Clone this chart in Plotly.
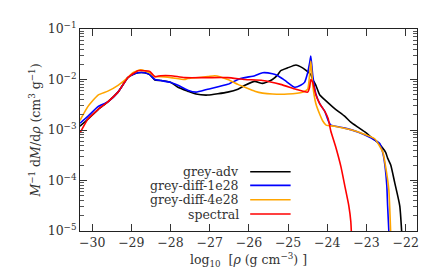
import plotly.graph_objects as go

# ---- data (x = log10 rho, y = M^-1 dM/drho) ----
adv_x = [-30.31, -30.11, -29.85, -29.60, -29.34, -29.09, -28.96, -28.83, -28.66, -28.53, -28.40, -28.25,
         -27.99, -27.81, -27.56, -27.35, -27.05, -26.54, -26.28, -26.10, -25.85, -25.65, -25.40, -25.26,
         -25.19, -25.01, -24.80, -24.63, -24.50, -24.42, -24.37, -24.29, -24.19, -24.06, -23.81, -23.55,
         -23.40, -23.22, -23.04, -22.89, -22.71, -22.51, -22.46, -22.38, -22.28, -22.15, -22.08]
adv_y = [1.19e-3, 1.63e-3, 2.54e-3, 3.61e-3, 5.62e-3, 1.09e-2, 1.25e-2, 1.36e-2, 1.36e-2, 1.25e-2, 9.8e-3, 9.57e-3,
         8.76e-3, 7.02e-3, 5.88e-3, 5.15e-3, 4.92e-3, 5.62e-3, 6.42e-3, 7.67e-3, 9.16e-3, 8.38e-3, 1.0e-2, 1.25e-2,
         1.49e-2, 1.70e-2, 1.94e-2, 1.70e-2, 1.43e-2, 1.25e-2, 1.0e-2, 7.67e-3, 4.92e-3, 3.94e-3, 2.65e-3, 1.86e-3,
         1.43e-3, 1.14e-3, 9.16e-4, 7.34e-4, 5.62e-4, 3.61e-4, 2.77e-4, 2.03e-4, 9.16e-5, 3.16e-5, 5e-6]

d1_x = [-30.31, -30.11, -29.85, -29.60, -29.34, -29.09, -28.96, -28.83, -28.66, -28.53, -28.40, -28.25,
        -27.99, -27.81, -27.56, -27.35, -27.05, -26.54, -26.28, -26.10, -25.85, -25.65, -25.40, -25.26,
        -25.08, -24.83, -24.68, -24.58, -24.50, -24.45, -24.42, -24.37, -24.29, -24.19, -24.06, -23.98,
        -23.91, -23.55, -23.22, -22.89, -22.66, -22.58, -22.53, -22.48, -22.46, -22.41]
d1_y = [1.36e-3, 1.86e-3, 2.90e-3, 3.61e-3, 5.62e-3, 1.09e-2, 1.25e-2, 1.36e-2, 1.36e-2, 1.25e-2, 1.0e-2, 9.57e-3,
        8.76e-3, 7.67e-3, 6.14e-3, 5.62e-3, 6.42e-3, 8.01e-3, 1.0e-2, 1.09e-2, 1.19e-2, 1.36e-2, 1.30e-2, 1.19e-2,
        9.57e-3, 7.02e-3, 7.67e-3, 8.76e-3, 1.36e-2, 2.12e-2, 2.90e-2, 1.19e-2, 5.15e-3, 3.30e-3, 2.32e-3, 1.56e-3,
        1.25e-3, 1.09e-3, 9.16e-4, 7.02e-4, 5.38e-4, 3.45e-4, 2.03e-4, 7.67e-5, 3.16e-5, 5e-6]

d4_x = [-30.31, -30.11, -29.85, -29.60, -29.34, -29.09, -28.96, -28.76, -28.53, -28.40, -28.25, -27.99,
        -27.64, -27.56, -27.05, -26.87, -26.54, -26.28, -26.10, -25.85, -25.65, -25.40, -25.01, -24.63,
        -24.50, -24.42, -24.37, -24.29, -24.19, -24.11, -24.03, -23.81, -23.48, -23.14, -22.79, -22.58,
        -22.51, -22.43, -22.37]
d4_y = [1.55e-3, 2.90e-3, 4.92e-3, 5.88e-3, 7.67e-3, 1.09e-2, 1.36e-2, 1.56e-2, 1.36e-2, 1.14e-2, 1.14e-2, 1.09e-2,
        1.0e-2, 1.045e-2, 1.14e-2, 1.19e-2, 1.0e-2, 8.01e-3, 7.02e-3, 5.88e-3, 5.38e-3, 5.15e-3, 5.15e-3, 5.62e-3,
        6.42e-3, 2.32e-2, 7.67e-3, 3.30e-3, 2.03e-3, 1.49e-3, 1.25e-3, 1.19e-3, 1.045e-3, 8.76e-4, 6.71e-4, 3.61e-4,
        1.86e-4, 6.71e-5, 5e-6]

sp_x = [-30.31, -30.11, -29.85, -29.60, -29.34, -29.09, -28.83, -28.66, -28.53, -28.40, -28.25, -27.99,
        -27.64, -27.05, -26.54, -26.10, -25.65, -25.19, -24.80, -24.50, -24.45, -24.42, -24.37, -24.29,
        -24.19, -24.06, -23.98, -23.91, -23.78, -23.65, -23.55, -23.45, -23.40, -23.37]
sp_y = [8.76e-4, 1.63e-3, 2.54e-3, 3.61e-3, 5.62e-3, 1.09e-2, 1.49e-2, 1.49e-2, 1.45e-2, 1.14e-2, 1.19e-2, 1.19e-2,
        1.09e-2, 1.09e-2, 1.09e-2, 1.0e-2, 9.57e-3, 8.01e-3, 6.42e-3, 5.62e-3, 7.02e-3, 1.0e-2, 8.76e-3, 4.92e-3,
        3.30e-3, 2.32e-3, 1.70e-3, 9.57e-4, 4.51e-4, 1.86e-4, 7.67e-5, 3.16e-5, 1.56e-5, 5e-6]

names = ["grey-adv", "grey-diff-1e28", "grey-diff-4e28", "spectral"]
colors = ["#000000", "#0000ff", "#ffa500", "#ff0000"]

x_ticks = [-30, -29, -28, -27, -26, -25, -24, -23, -22]
x_ticktext = ["\u221230", "\u221229", "\u221228", "\u221227", "\u221226", "\u221225", "\u221224", "\u221223", "\u221222"]
y_ticks = [1e-5, 1e-4, 1e-3, 1e-2, 1e-1]
y_ticktext = ["10<sup>\u22125</sup>", "10<sup>\u22124</sup>", "10<sup>\u22123</sup>", "10<sup>\u22122</sup>", "10<sup>\u22121</sup>"]

FONT = "DejaVu Serif"
TXT = "#333333"
FS = 12.5

fig = go.Figure()
series = [(adv_x, adv_y), (d1_x, d1_y), (d4_x, d4_y), (sp_x, sp_y)]
for (xs, ys), nm, c in zip(series, names, colors):
    fig.add_trace(go.Scatter(x=xs, y=ys, mode="lines", name=nm,
                             line=dict(color=c, width=1.6, shape="spline", smoothing=0.5),
                             showlegend=False))

# manual legend (text right-aligned, line sample to the right)
leg_y = [0.293, 0.226, 0.155, 0.084]
for nm, c, yy in zip(names, colors, leg_y):
    fig.add_annotation(x=0.478, y=yy, xref="paper", yref="paper", text=nm, showarrow=False,
                       xanchor="right", yanchor="middle", font=dict(family=FONT, size=FS, color=TXT))
    fig.add_shape(type="line", xref="paper", yref="paper", x0=0.505, x1=0.625, y0=yy, y1=yy,
                  line=dict(color=c, width=1.6))

minor_y = [m * 10 ** e for e in range(-5, -1) for m in range(2, 10)]

fig.update_layout(
    width=436, height=271,
    margin=dict(l=72, r=27, t=15, b=48),
    paper_bgcolor="white", plot_bgcolor="white",
    font=dict(family=FONT, size=FS, color=TXT),
    xaxis=dict(range=[-30.31, -21.71], tickmode="array", tickvals=x_ticks, ticktext=x_ticktext,
               ticks="inside", ticklen=7, tickwidth=1, tickcolor="#333",
               showline=True, linecolor="#222", linewidth=1, mirror="ticks",
               showgrid=False, zeroline=False, tickfont=dict(family=FONT, size=FS, color=TXT),
               title=dict(text="log<sub>10</sub>  [<i>\u03c1</i> (g cm<sup>\u22123</sup>) ]", standoff=6,
                          font=dict(family=FONT, size=FS, color=TXT))),
    yaxis=dict(type="log", range=[-5, -1], tickmode="array", tickvals=y_ticks, ticktext=y_ticktext,
               ticks="inside", ticklen=7, tickwidth=1, tickcolor="#333",
               minor=dict(tickmode="array", tickvals=minor_y, ticks="inside", ticklen=4, tickcolor="#555", showgrid=False),
               showline=True, linecolor="#222", linewidth=1, mirror="ticks",
               showgrid=False, zeroline=False, tickfont=dict(family=FONT, size=FS, color=TXT),
               title=dict(text="<i>M</i><sup>\u22121</sup> d<i>M</i>/d<i>\u03c1</i> (cm<sup>3</sup> g<sup>\u22121</sup>)",
                          standoff=4, font=dict(family=FONT, size=FS, color=TXT))),
)

fig.write_html("out.html")
